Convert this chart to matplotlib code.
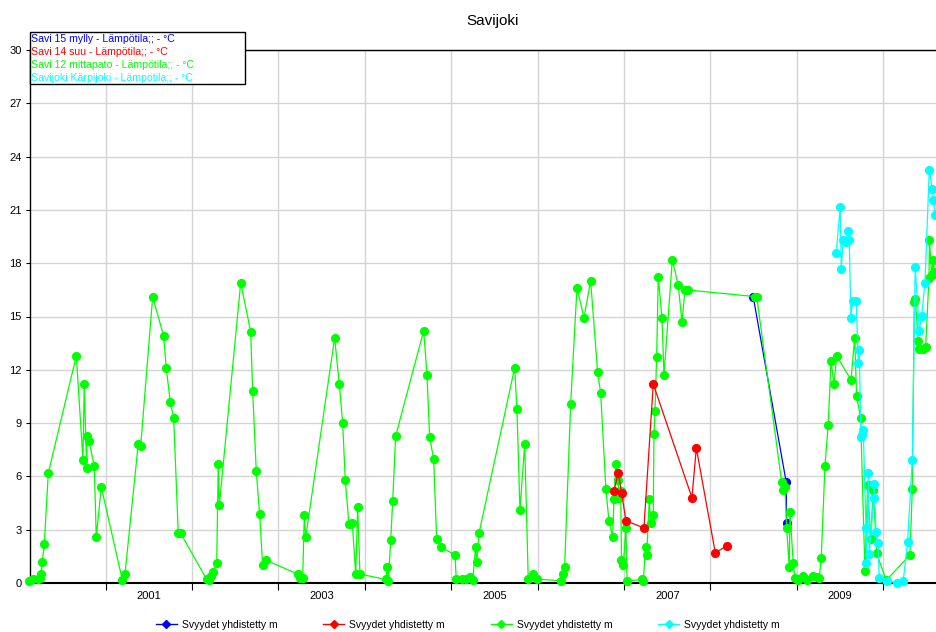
import matplotlib
matplotlib.use('Agg')
import matplotlib.pyplot as plt
from matplotlib.patches import Rectangle
from matplotlib.lines import Line2D

plt.rcParams['font.family'] = ['Liberation Sans', 'DejaVu Sans']

# series names (top-left legend) and bottom legend label
names = ['Savi 15 mylly - Lämpötila;; - °C',
         'Savi 14 suu - Lämpötila;; - °C',
         'Savi 12 mittapato - Lämpötila;; - °C',
         'Savijoki Kärpijoki - Lämpötila;; - °C']
bottom_label = 'Svyydet yhdistetty m'
colors = ['#0000ff', '#ff0000', '#00ff00', '#00ffff']

# time as decimal year, value in °C
t_blue = [2008.495, 2008.876, 2008.882]
v_blue = [16.1, 5.7, 3.4]

t_red = [2006.883, 2006.933, 2006.972, 2007.022, 2007.230, 2007.338,
         2007.786, 2007.836, 2008.056, 2008.192]
v_red = [5.2, 6.2, 5.05, 3.5, 3.1, 11.2, 4.8, 7.6, 1.7, 2.1]

t_green = [2000.112, 2000.162, 2000.213, 2000.240, 2000.251, 2000.266, 2000.289, 2000.336,
           2000.660, 2000.737, 2000.752, 2000.780, 2000.784, 2000.807, 2000.868, 2000.891,
           2000.949, 2001.192, 2001.223, 2001.377, 2001.405, 2001.544, 2001.671, 2001.701,
           2001.748, 2001.787, 2001.840, 2001.868,
           2002.169, 2002.196, 2002.219, 2002.245, 2002.285, 2002.303, 2002.315, 2002.563,
           2002.678, 2002.701, 2002.743, 2002.782, 2002.817, 2002.859, 2003.222, 2003.252,
           2003.280, 2003.299, 2003.315, 2003.650, 2003.704, 2003.743, 2003.773, 2003.816,
           2003.854, 2003.894, 2003.917, 2003.943, 2004.244, 2004.259, 2004.271, 2004.299,
           2004.322, 2004.356, 2004.681, 2004.719, 2004.750, 2004.796, 2004.831, 2004.877,
           2005.043, 2005.058, 2005.120, 2005.167, 2005.216, 2005.248, 2005.282, 2005.294,
           2005.321, 2005.734, 2005.760, 2005.795, 2005.850, 2005.891, 2005.942, 2005.988,
           2006.266, 2006.289, 2006.312, 2006.382, 2006.455, 2006.536, 2006.613, 2006.694,
           2006.729, 2006.790, 2006.825, 2006.868, 2006.883, 2006.906, 2006.933, 2006.941,
           2006.961, 2006.970, 2006.991, 2007.022, 2007.034, 2007.204, 2007.222, 2007.250,
           2007.262, 2007.292, 2007.311, 2007.338, 2007.346, 2007.358, 2007.377, 2007.396,
           2007.439, 2007.462, 2007.558, 2007.627, 2007.670, 2007.705, 2007.743, 2008.515,
           2008.535, 2008.824, 2008.843, 2008.862, 2008.882, 2008.912, 2008.920, 2008.958,
           2008.978, 2009.016, 2009.067, 2009.113, 2009.183, 2009.229, 2009.259, 2009.282,
           2009.325, 2009.363, 2009.395, 2009.430, 2009.461, 2009.627, 2009.669, 2009.692,
           2009.738, 2009.788, 2009.819, 2009.854, 2009.884, 2009.924, 2010.035, 2010.309,
           2010.336, 2010.359, 2010.370, 2010.405, 2010.413, 2010.463, 2010.491, 2010.529,
           2010.535, 2010.560, 2010.579, 2010.587]
v_green = [0.1, 0.2, 0.2, 0.3, 0.5, 1.16, 2.18, 6.19,
           12.78, 6.92, 11.2, 6.45, 8.27, 7.99, 6.58, 2.57,
           5.4, 0.19, 0.5, 7.82, 7.71, 16.1, 13.9, 12.1,
           10.19, 9.29, 2.8, 2.8,
           0.2, 0.17, 0.39, 0.64, 1.1, 6.7, 4.37, 16.9,
           14.15, 10.83, 6.3, 3.86, 1.0, 1.28, 0.5, 0.3,
           0.26, 3.81, 2.57, 13.79, 11.2, 9.0, 5.8, 3.3,
           3.4, 0.5, 4.28, 0.5, 0.2, 0.9, 0.11, 2.4,
           4.6, 8.27, 14.2, 11.7, 8.2, 6.98, 2.48, 2.03,
           1.58, 0.2, 0.2, 0.24, 0.36, 0.17, 2.03, 1.18,
           2.8, 12.12, 9.79, 4.11, 7.82, 0.2, 0.5, 0.22,
           0.13, 0.5, 0.9, 10.09, 16.62, 14.92, 17.0, 11.88,
           10.69, 5.27, 3.49, 2.59, 4.71, 6.7, 5.8, 4.77,
           5.2, 1.29, 1.0, 3.08, 0.11, 0.2, 0.13, 2.03,
           1.58, 4.71, 3.36, 3.81, 8.39, 9.68, 12.74, 17.24,
           14.92, 11.69, 18.18, 16.77, 14.71, 16.49, 16.49, 16.12,
           16.12, 5.7, 5.23, 5.4, 3.08, 0.92, 4.0, 1.14,
           0.26, 0.17, 0.39, 0.17, 0.39, 0.36, 0.3, 1.39,
           6.59, 8.89, 12.5, 11.2, 12.78, 11.43, 13.8, 10.5,
           9.3, 0.68, 5.52, 2.46, 5.23, 1.67, 0.15, 1.58,
           5.27, 15.83, 16.0, 13.64, 13.15, 13.15, 13.3, 17.15,
           19.3, 17.34, 18.18, 17.5]

t_cyan = [2009.456, 2009.502, 2009.514, 2009.537, 2009.565, 2009.595, 2009.606, 2009.626,
          2009.645, 2009.687, 2009.711, 2009.722, 2009.742, 2009.757, 2009.769, 2009.800,
          2009.806, 2009.827, 2009.838, 2009.889, 2009.896, 2009.916, 2009.939, 2009.954,
          2010.046, 2010.155, 2010.231, 2010.282, 2010.336, 2010.370, 2010.417, 2010.444,
          2010.483, 2010.533, 2010.567, 2010.579, 2010.602]
v_cyan = [18.6, 21.14, 17.7, 19.3, 19.2, 19.83, 19.3, 14.93,
          15.89, 15.89, 12.4, 13.1, 8.24, 8.33, 8.6, 3.11,
          1.1, 6.17, 1.63, 4.77, 5.6, 2.89, 2.23, 0.26,
          0.13, 0.0, 0.11, 2.33, 6.92, 17.8, 14.18, 15.03,
          16.9, 23.25, 22.18, 21.56, 20.7]

y_ticks = list(range(0, 31, 3))
year_ticks = list(range(2001, 2011))
year_labels = ['2001', '2003', '2005', '2007', '2009']

fig = plt.figure(figsize=(9.36, 6.32), dpi=100)
ax = fig.add_axes([30 / 936, 49 / 632, 926 / 936, 533 / 632])

series = [(t_blue, v_blue), (t_red, v_red), (t_green, v_green), (t_cyan, v_cyan)]
zorders = [3, 5, 4, 6]
for (t, v), c, z in zip(series, colors, zorders):
    ax.plot(t, v, '-', color=c, lw=0.9, marker='o', ms=5.6, mec=c, mfc=c, zorder=z,
            clip_on=False)

ax.set_xlim(2000.124, 2010.842)
ax.set_ylim(0, 30)
ax.set_yticks(y_ticks)
ax.set_xticks(year_ticks)
ax.set_xticklabels([])
ax.set_xticks([int(y) + 0.5 for y in year_labels], minor=True)
ax.set_xticklabels(year_labels, minor=True)
ax.tick_params(axis='x', which='major', length=5, width=0.8, direction='out')
ax.tick_params(axis='x', which='minor', length=0, pad=6, labelsize=8)
ax.tick_params(axis='y', length=3, width=0.8, labelsize=8, pad=3)
ax.grid(True, which='major', color='#d4d4d4', lw=1)
ax.set_axisbelow(True)
ax.spines['right'].set_visible(False)
for s in ['left', 'top']:
    ax.spines[s].set_linewidth(1.0)
ax.spines['bottom'].set_linewidth(1.5)

ax.set_title('Savijoki', fontsize=11, pad=18)

# legend box top-left
fig.patches.append(Rectangle((29.5 / 936, 1 - 83.5 / 632), 215.5 / 936, 51.5 / 632,
                             transform=fig.transFigure, facecolor='white',
                             edgecolor='black', lw=1, zorder=10))
for i, (name, c) in enumerate(zip(names, colors)):
    fig.text(31 / 936, 1 - (39 + 13 * i) / 632, name, color=c, fontsize=7.6,
             va='center', ha='left', zorder=11)

# bottom legend
handles = [Line2D([], [], color=c, lw=1, marker='D', ms=4, mfc=c, mec=c) for c in colors]
fig.legend(handles, [bottom_label] * 4, loc='center', ncol=4,
           bbox_to_anchor=(0.5, 1 - 625 / 632), frameon=False, fontsize=7.5,
           handlelength=2.0, handletextpad=0.5, columnspacing=4.4)

fig.savefig('out.png', dpi=100)
print('finish')
